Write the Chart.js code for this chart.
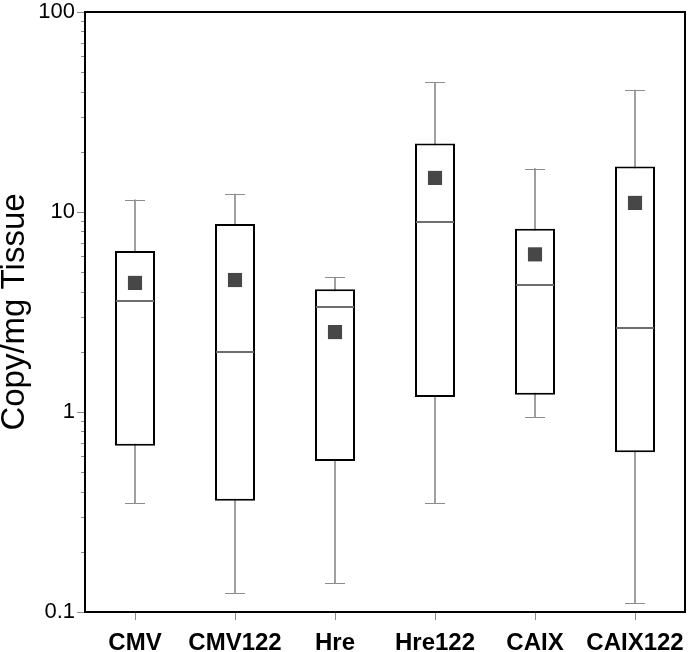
<!DOCTYPE html>
<html>
<head>
<meta charset="utf-8">
<script src="https://cdn.jsdelivr.net/npm/chart.js@4"></script>
<style>
  html, body { margin: 0; padding: 0; background: #fff; }
  #wrap { width: 688px; height: 652px; }
</style>
</head>
<body>
<div id="wrap"><canvas id="myChart" width="688" height="652"></canvas></div>
<script>
// data
const categories = ['CMV', 'CMV122', 'Hre', 'Hre122', 'CAIX', 'CAIX122'];
const whiskerMin = [0.349, 0.124, 0.14, 0.35, 0.944, 0.111];
const q1 = [0.679, 0.36, 0.569, 1.19, 1.22, 0.63];
const median = [3.59, 2.0, 3.34, 8.94, 4.33, 2.63];
const q3 = [6.38, 8.72, 4.11, 22.0, 8.25, 16.9];
const whiskerMax = [11.5, 12.3, 4.72, 44.5, 16.5, 40.7];
const mean = [4.42, 4.57, 2.51, 14.8, 6.14, 11.1];

const majorTicks = [0.1, 1, 10, 100];
const majorLabels = ['0.1', '1', '10', '100'];
const minorTicks = [0.2, 0.3, 0.4, 0.5, 0.6, 0.7, 0.8, 0.9,
  2, 3, 4, 5, 6, 7, 8, 9, 20, 30, 40, 50, 60, 70, 80, 90];

const grey = '#8c8c8c';

// medians, whisker caps, minor ticks and frame
const boxExtras = {
  id: 'boxExtras',
  afterDatasetsDraw(chart) {
    const ctx = chart.ctx;
    const x = chart.scales.x, y = chart.scales.y;
    const area = chart.chartArea;
    ctx.save();
    ctx.lineCap = 'butt';
    for (let i = 0; i < categories.length; ++i) {
      const cx = x.getPixelForValue(i);
      ctx.strokeStyle = grey;
      ctx.lineWidth = 1;
      [whiskerMin[i], whiskerMax[i]].forEach(function (v) {
        const py = Math.round(y.getPixelForValue(v)) + 0.5;
        ctx.beginPath();
        ctx.moveTo(cx - 10, py);
        ctx.lineTo(cx + 10, py);
        ctx.stroke();
      });
      ctx.strokeStyle = '#6e6e6e';
      ctx.lineWidth = 2;
      const my = Math.round(y.getPixelForValue(median[i]));
      ctx.beginPath();
      ctx.moveTo(cx - 19, my);
      ctx.lineTo(cx + 19, my);
      ctx.stroke();
    }
    ctx.strokeStyle = grey;
    ctx.lineWidth = 1;
    minorTicks.forEach(function (v) {
      const py = Math.round(y.getPixelForValue(v)) + 0.5;
      ctx.beginPath();
      ctx.moveTo(area.left - 4, py);
      ctx.lineTo(area.left, py);
      ctx.stroke();
    });
    ctx.strokeStyle = '#000';
    ctx.lineWidth = 2;
    ctx.strokeRect(area.left, area.top, area.right - area.left, area.bottom - area.top);
    ctx.restore();
  }
};

const ctx = document.getElementById('myChart').getContext('2d');
let myChart = new Chart(ctx, {
  type: 'bar',
  data: {
    labels: categories,
    datasets: [
      {
        type: 'line',
        label: 'Mean',
        data: mean,
        showLine: false,
        pointStyle: 'rect',
        pointRadius: 10,
        backgroundColor: '#474747',
        borderColor: '#474747',
        borderWidth: 0,
        order: 0,
      },
      {
        label: 'Box',
        data: q1.map((v, i) => [v, q3[i]]),
        backgroundColor: '#ffffff',
        borderColor: '#000000',
        borderWidth: 2,
        borderSkipped: false,
        barPercentage: 0.4,
        categoryPercentage: 1,
        grouped: false,
        order: 1,
      },
      {
        label: 'Whisker',
        data: whiskerMin.map((v, i) => [v, whiskerMax[i]]),
        backgroundColor: grey,
        borderWidth: 0,
        barThickness: 1,
        grouped: false,
        order: 2,
      },
    ],
  },
  options: {
    responsive: false,
    animation: false,
    layout: {
      autoPadding: false,
      padding: { top: 12, right: 3, left: 0, bottom: 0 },
    },
    plugins: {
      legend: { display: false },
      tooltip: { enabled: false },
    },
    scales: {
      x: {
        offset: true,
        grid: {
          offset: false,
          drawOnChartArea: false,
          tickLength: 8,
          tickColor: grey,
        },
        border: { display: false },
        ticks: {
          color: '#000',
          padding: 9,
          autoSkip: false,
          font: { family: 'Liberation Sans', size: 24, weight: 'bold' },
          maxRotation: 0,
        },
        afterFit(s) {
          s.height = 40;
          s.paddingLeft = 0;
          s.paddingRight = 0;
        },
      },
      y: {
        type: 'logarithmic',
        min: 0.1,
        max: 100,
        afterBuildTicks(s) {
          s.ticks = majorTicks.map(v => ({ value: v }));
        },
        grid: {
          drawOnChartArea: false,
          tickLength: 8,
          tickColor: grey,
        },
        border: { display: false },
        ticks: {
          color: '#000',
          padding: 2,
          font: { family: 'Liberation Sans', size: 22 },
          callback: function (value) {
            const k = majorTicks.indexOf(value);
            return k >= 0 ? majorLabels[k] : '';
          },
        },
        title: {
          display: true,
          text: 'Copy/mg Tissue',
          color: '#000',
          font: { family: 'Liberation Sans', size: 33, lineHeight: 0.9 },
          padding: 0,
        },
        afterFit(s) {
          s.width = 85;
          s.paddingTop = 0;
          s.paddingBottom = 0;
        },
      },
    },
  },
  plugins: [boxExtras],
});
</script>
</body>
</html>
